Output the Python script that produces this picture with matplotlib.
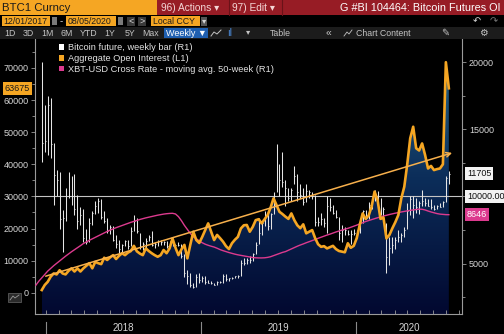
import matplotlib
matplotlib.use('Agg')
import matplotlib.pyplot as plt
import matplotlib.dates as mdates
import matplotlib.patches as mpatches
import matplotlib.transforms as mtransforms
from matplotlib.colors import LinearSegmentedColormap
import numpy as np
import pandas as pd

plt.rcParams['font.family'] = ['Liberation Sans', 'DejaVu Sans']

# ── Data ─────────────────────────────────────────────────────────────
bar_dates = pd.date_range('2017-12-22', periods=138, freq='7D')
ma_dates = pd.date_range('2017-12-08', periods=140, freq='7D')

price_high = [20000, 16800, 17500, 17300, 14000, 12000, 11800, 9000, 10600, 11800,
              11500, 11700, 10100, 9200, 9100, 7600, 8400, 8900, 9700, 9900,
              9800, 8900, 8400, 7900, 7800, 7100, 6800, 6500, 6800, 6800,
              7700, 8600, 8400, 7300, 6600, 6900, 7100, 7400, 6600, 6800,
              6800, 6700, 6700, 6700, 6600, 6500, 6600, 6500, 5700, 4500,
              4300, 3600, 4200, 4300, 4100, 4100, 3800, 3700, 3600, 3700,
              3700, 4200, 4200, 3950, 4000, 4100, 4150, 5300, 5450, 5400,
              5600, 5800, 6600, 8400, 8200, 8900, 8800, 8800, 10300, 13900,
              12400, 13300, 11200, 10600, 10600, 12300, 11700, 10900, 10600, 10900,
              10500, 10300, 10100, 8500, 8800, 8400, 10000, 9900, 9400, 9000,
              8500, 7900, 7700, 7500, 7500, 7600, 7500, 8300, 9000, 9000,
              9600, 9900, 10500, 10400, 9900, 9200, 8000, 7000, 7000, 7000,
              7500, 7300, 7700, 9500, 10000, 10000, 9900, 9700, 10500, 9900,
              9800, 9800, 9400, 9400, 9500, 9700, 11500, 11900]
price_low = [12600, 13300, 13100, 12900, 9400, 10000, 7600, 5900, 8200, 9900,
             9400, 8600, 7600, 7900, 6600, 6500, 6600, 7900, 8700, 8800,
             8300, 8000, 7300, 7200, 6700, 6200, 5800, 5800, 6300, 6100,
             6300, 7400, 7300, 6100, 6000, 6200, 6700, 6300, 6200, 6300,
             6400, 6400, 6200, 6300, 6300, 6300, 6300, 5400, 4000, 3500,
             3300, 3200, 3300, 3600, 3650, 3500, 3550, 3500, 3400, 3400,
             3580, 3600, 3700, 3750, 3850, 3900, 3950, 4100, 4900, 5000,
             5050, 5200, 5700, 6500, 7100, 7800, 7500, 7600, 8700, 10300,
             10000, 10700, 9300, 9700, 9700, 10900, 9700, 9900, 9400, 9600,
             9900, 9800, 7800, 7800, 7900, 7700, 7300, 8900, 8700, 8400,
             6800, 6600, 7100, 7100, 6500, 7100, 6900, 7300, 8000, 8300,
             8300, 9100, 9700, 9500, 8600, 8500, 4300, 4900, 5800, 6100,
             6600, 6600, 7000, 7600, 8600, 8400, 8800, 8700, 9300, 9300,
             9300, 9100, 9000, 9100, 9200, 9200, 9600, 10900]
price_close = [14000, 14100, 16800, 13900, 11600, 11200, 8300, 8400, 10300, 10000,
               11100, 9100, 8200, 8600, 6900, 6600, 8000, 8800, 9300, 9700,
               8500, 8200, 7400, 7700, 6800, 6500, 6100, 6400, 6700, 6300,
               7400, 8200, 7400, 6300, 6500, 6700, 7000, 6400, 6500, 6700,
               6600, 6600, 6300, 6400, 6400, 6400, 6400, 5600, 4300, 4100,
               3400, 3300, 4000, 3800, 3900, 3650, 3600, 3580, 3450, 3650,
               3640, 4100, 3850, 3900, 3950, 4050, 4100, 5050, 5050, 5300,
               5250, 5750, 6400, 7300, 8000, 8600, 7800, 8700, 10200, 11500,
               11200, 11100, 10600, 9900, 10500, 11500, 10300, 10100, 9600, 10400,
               10300, 10000, 8100, 8100, 8300, 8000, 9300, 9200, 8800, 8500,
               7300, 7500, 7500, 7200, 7200, 7300, 7400, 8100, 8900, 8400,
               9400, 9800, 10300, 9700, 8700, 9100, 5500, 6200, 6400, 6800,
               7000, 7100, 7500, 8900, 9800, 9400, 9200, 9500, 9700, 9500,
               9300, 9200, 9100, 9300, 9200, 9600, 11400, 11705]
open_interest = [840, 2400, 3400, 5000, 6000, 5700, 7000, 6000, 5700, 6800,
                 7600, 6600, 7600, 6600, 7600, 8400, 9200, 7600, 9600, 9200,
                 8900, 10900, 10200, 11000, 11700, 10500, 11500, 12300, 11700, 12500,
                 13000, 14600, 12900, 12200, 11700, 13800, 13000, 12300, 11700, 11200,
                 11700, 13300, 12300, 13800, 16900, 14000, 11700, 13500, 14900, 10700,
                 15000, 19000, 16400, 15500, 17400, 19500, 21600, 19000, 16400, 18000,
                 17000, 15900, 14500, 13600, 15400, 16500, 17400, 20000, 21000, 21100,
                 19000, 20500, 22600, 22900, 21600, 22900, 24200, 26500, 29400, 27300,
                 25200, 24500, 23700, 23000, 24700, 22600, 21000, 20100, 21300, 18500,
                 19000, 19500, 17000, 15100, 14300, 14500, 13800, 14200, 14600, 13600,
                 13000, 12800, 12600, 15400, 14000, 14600, 17000, 21100, 24700, 23000,
                 24000, 26800, 31500, 28900, 23000, 23400, 16900, 18000, 20100, 22000,
                 24200, 29400, 33000, 40000, 48100, 51700, 45000, 44300, 46500, 42900,
                 38700, 39500, 38200, 38500, 38700, 40000, 71800, 63675]
ma_50w = [3400, 3700, 3950, 4200, 4450, 4650, 4850, 5030, 5220, 5400,
          5560, 5730, 5890, 6040, 6190, 6340, 6500, 6620, 6740, 6850,
          6960, 7070, 7180, 7290, 7400, 7500, 7590, 7680, 7760, 7840,
          7920, 8000, 8080, 8150, 8220, 8290, 8350, 8410, 8460, 8510,
          8560, 8610, 8650, 8690, 8720, 8740, 8750, 8700, 8500, 8200,
          7850, 7550, 7250, 7000, 6850, 6700, 6560, 6450, 6370, 6300,
          6240, 6150, 6050, 5970, 5900, 5830, 5770, 5710, 5660, 5620,
          5580, 5540, 5500, 5460, 5440, 5430, 5430, 5440, 5470, 5520,
          5600, 5680, 5760, 5840, 5900, 6000, 6100, 6200, 6300, 6390,
          6470, 6560, 6640, 6720, 6800, 6890, 6970, 7050, 7130, 7200,
          7280, 7360, 7430, 7500, 7570, 7630, 7710, 7790, 7870, 7960,
          8050, 8140, 8210, 8280, 8350, 8420, 8480, 8550, 8600, 8660,
          8710, 8760, 8800, 8850, 8890, 8930, 8970, 9000, 9030, 9060,
          9050, 9000, 8920, 8850, 8790, 8730, 8690, 8670, 8650, 8646]
trend_dates = pd.to_datetime(['2017-12-25', '2020-08-21'])
trend_oi = [4900, 43800]
ref_level = 10000
years = [2018, 2019, 2020]
x_range = pd.to_datetime(['2017-12-06', '2020-09-07'])

ORANGE = '#f5a623'
PINK = '#dc3a8e'
GRID = '#9a9a9a'
TXT = '#d6d6d6'

W, H = 504, 334
fig = plt.figure(figsize=(W / 100, H / 100), dpi=100, facecolor='black')


def px(x0, y0, x1, y1):
    return [x0 / W, 1 - y1 / H, (x1 - x0) / W, (y1 - y0) / H]


ax = fig.add_axes(px(35, 39, 462, 314))
ax.set_facecolor('black')
ax2 = ax.twinx()
ax3 = ax.twinx()
ax.set_zorder(1)
ax2.set_zorder(2)
ax3.set_zorder(3)

oi_lim = (-6630, 79030)
px_lim = (1258, 21718)
xn = mdates.date2num(bar_dates)
xlim = mdates.date2num(x_range)

# gradient fill under open interest
poly = ax.fill_between(xn, open_interest, oi_lim[0], facecolor='none', edgecolor='none')
grad = np.linspace(0, 1, 256).reshape(-1, 1)
cmap = LinearSegmentedColormap.from_list('oi', ['#020830', '#0c2e5a', '#2b6e8e'])
im = ax.imshow(grad, aspect='auto', cmap=cmap, origin='lower',
               extent=[xn[0], xn[-1], oi_lim[0], oi_lim[1]], zorder=1)
im.set_clip_path(poly.get_paths()[0], transform=ax.transData)
ax.set_xlim(*xlim)
ax.set_ylim(*oi_lim)

# price bars, 10000 line and moving average on the right scale
ax2.axhline(ref_level, color='#c4c4c4', lw=0.8, zorder=1)
ax2.vlines(bar_dates, price_low, price_high, colors='#e4e4e4', lw=0.75, zorder=2)
ax2.hlines(price_close, xn, xn + 2.2, colors='#e4e4e4', lw=0.75, zorder=2)
ax2.plot(ma_dates, ma_50w, color=PINK, lw=1.0, zorder=3)
ax2.set_ylim(*px_lim)

# open interest line + trend arrow on top
ax3.plot(xn, open_interest, color=ORANGE, lw=1.9, solid_joinstyle='round', zorder=3)
ax3.annotate('', xy=(mdates.date2num(trend_dates[1]), trend_oi[1]),
             xytext=(mdates.date2num(trend_dates[0]), trend_oi[0]),
             arrowprops=dict(arrowstyle='->', color='#f7b04c', lw=1.1, mutation_scale=8))
ax3.set_ylim(*oi_lim)
ax3.set_xlim(*xlim)

# axes styling
for a in (ax, ax2, ax3):
    for s in a.spines.values():
        s.set_visible(False)
ax.spines['left'].set_visible(True)
ax.spines['bottom'].set_visible(True)
ax2.spines['right'].set_visible(True)
for s in (ax.spines['left'], ax.spines['bottom'], ax2.spines['right']):
    s.set_color(GRID)
    s.set_linewidth(0.8)

ax.set_yticks(range(0, 70001, 10000))
ax.set_yticks(range(0, 75001, 5000), minor=True)
ax.tick_params(axis='y', which='both', colors=GRID, labelcolor=TXT, labelsize=6.5,
               length=3, width=0.6, pad=1.5)
ax.tick_params(axis='y', which='minor', length=2)
ax.set_xticks([])
ax.xaxis.set_minor_locator(mdates.MonthLocator())
ax.tick_params(axis='x', which='minor', direction='in', length=3, width=0.6, colors=GRID)

ax2.set_yticks([5000, 10000, 15000, 20000])
ax2.set_yticklabels(['5000', '', '15000', '20000'])
ax2.set_yticks(np.arange(2500, 21000, 2500), minor=True)
ax2.tick_params(axis='y', which='both', colors=GRID, labelcolor=TXT, labelsize=6.5,
                length=3, width=0.6, pad=2)
ax2.tick_params(axis='y', which='minor', length=2)
ax3.set_yticks([])
ax3.set_xticks([])

# year separators and labels
bx = mtransforms.blended_transform_factory(ax.transData, ax.transAxes)
starts = [mdates.date2num(pd.Timestamp(f'{y}-01-01')) for y in years]
ends = starts[1:] + [xlim[1]]
for y, s, e in zip(years, starts, ends):
    ax.plot([s, s], [-0.03, -0.075], transform=bx, clip_on=False, color='#8a8a8a', lw=0.8)
    ax.text((s + e) / 2, -0.052, str(y), transform=bx, ha='center', va='center',
            color=TXT, fontsize=7)

# last value tags
lt = mtransforms.blended_transform_factory(ax.transAxes, ax.transData)
ax.text(-0.012, open_interest[-1], f'{open_interest[-1]}', transform=lt, ha='right',
        va='center', fontsize=6.5, color='#1a1a1a', zorder=5,
        bbox=dict(boxstyle='square,pad=0.2', fc=ORANGE, ec='none'))
rt = mtransforms.blended_transform_factory(ax2.transAxes, ax2.transData)
ax2.text(1.012, price_close[-1], f'{price_close[-1]}', transform=rt, ha='left', va='center',
         fontsize=6.5, color='#111111', clip_on=False,
         bbox=dict(boxstyle='square,pad=0.2', fc='#f2f2f2', ec='none'))
ax2.text(1.012, ref_level, f'{ref_level:.2f}', transform=rt, ha='left', va='center',
         fontsize=6.5, color='#111111', clip_on=False,
         bbox=dict(boxstyle='square,pad=0.2', fc='#f2f2f2', ec='none'))
ax2.text(1.012, ma_50w[-1], f'{ma_50w[-1]}', transform=rt, ha='left', va='center',
         fontsize=6.5, color='white', clip_on=False,
         bbox=dict(boxstyle='square,pad=0.2', fc=PINK, ec='none'))

# legend
handles = [mpatches.Patch(fc='white'), mpatches.Patch(fc=ORANGE), mpatches.Patch(fc=PINK)]
labels = ['Bitcoin future, weekly bar (R1)', 'Aggregate Open Interest (L1)',
          'XBT-USD Cross Rate - moving avg. 50-week (R1)']
leg = ax3.legend(handles, labels, loc='upper left', bbox_to_anchor=(0.05, 0.995),
                 frameon=True, facecolor='black', edgecolor='none', framealpha=1,
                 fontsize=6.7, labelcolor='#e2e2e2', handlelength=0.55, handleheight=0.55,
                 handletextpad=0.35, borderpad=0.3, labelspacing=0.2, borderaxespad=0)

# ── Bloomberg header bars ────────────────────────────────────────────
hdr = fig.add_axes([0, 0, 1, 1], zorder=10)
hdr.set_xlim(0, W)
hdr.set_ylim(H, 0)
hdr.axis('off')
hdr.patch.set_visible(False)


def box(x, y, w, h, fc, ec='none'):
    hdr.add_patch(mpatches.Rectangle((x, y), w, h, fc=fc, ec=ec, lw=0.6))


# row 1
box(0, 0, W, 15, '#971c25')
box(0, 0, 157, 15, ORANGE)
hdr.text(2, 8, 'BTC1 Curncy', fontsize=8.2, color='#1a1a1a', va='center')
hdr.text(161, 8, '96) Actions ▾', fontsize=7.3, color='#f4d6d6', va='center')
hdr.plot([229, 229], [0, 15], color='#6a1218', lw=0.8)
hdr.text(232, 8, '97) Edit ▾', fontsize=7.3, color='#f4d6d6', va='center')
hdr.plot([282, 282], [0, 15], color='#6a1218', lw=0.8)
hdr.text(500, 8, 'G #BI 104464: Bitcoin Futures OI', fontsize=7.8, color='white',
         va='center', ha='right')

# row 2
box(2, 16, 48, 10, ORANGE)
hdr.text(3.5, 21.5, '12/01/2017', fontsize=6.3, color='#1a1a1a', va='center')
box(52, 17, 5, 8, '#7a7a7a')
hdr.text(61, 21, '-', fontsize=7, color=TXT, va='center', ha='center')
box(66, 16, 50, 10, ORANGE)
hdr.text(67.5, 21.5, '08/05/2020', fontsize=6.3, color='#1a1a1a', va='center')
box(118, 17, 5, 8, '#7a7a7a')
box(127, 17, 8, 9, '#3a3a3a')
hdr.text(131, 21.5, '<', fontsize=6.5, color=TXT, va='center', ha='center')
box(138, 17, 8, 9, '#3a3a3a')
hdr.text(142, 21.5, '>', fontsize=6.5, color=TXT, va='center', ha='center')
box(151, 16, 49, 10, ORANGE)
hdr.text(153, 21.5, 'Local CCY', fontsize=6.3, color='#1a1a1a', va='center')
box(201, 17, 6, 9, '#555555')
hdr.text(204, 21.5, '▾', fontsize=6, color=TXT, va='center', ha='center')
hdr.text(477, 21, '↶', fontsize=7, color=TXT, va='center', ha='center', family='DejaVu Sans')
hdr.text(494, 21, '↷', fontsize=7, color='#777777', va='center', ha='center',
         family='DejaVu Sans')

# row 3
box(0, 27, W, 12, '#1c1c1c')
for lab, xc in zip(['1D', '3D', '1M', '6M', 'YTD', '1Y', '5Y', 'Max'],
                   [10, 28, 47, 67, 89, 110, 130, 151]):
    hdr.text(xc, 33, lab, fontsize=6.3, color='#c4c4c4', va='center', ha='center')
box(164, 28, 44, 10, '#1f5fb0')
hdr.text(186, 33, 'Weekly ▼', fontsize=6.5, color='white', va='center', ha='center')
hdr.plot([211, 214, 217, 221], [36, 32, 34, 30], color='#c4c4c4', lw=0.7)
hdr.text(230, 33, 'ıl', fontsize=7, color='#4d8fe0', va='center', ha='center')
hdr.text(248, 33, '▾', fontsize=6, color='#c4c4c4', va='center', ha='center')
hdr.text(280, 33, 'Table', fontsize=6.3, color='#c4c4c4', va='center', ha='center')
hdr.text(329, 33, '«', fontsize=7.5, color='#c4c4c4', va='center', ha='center')
hdr.plot([344, 347, 349, 352], [36, 32, 34, 30], color='#c4c4c4', lw=0.6)
hdr.text(356, 33, 'Chart Content', fontsize=6.3, color='#c4c4c4', va='center', ha='left')
hdr.text(445, 33, '✎', fontsize=7, color='#c4c4c4', va='center', ha='center',
         family='DejaVu Sans')
hdr.text(483, 33, '⚙', fontsize=7, color='#c4c4c4', va='center', ha='center',
         family='DejaVu Sans')

# chart icon bottom-left
box(8, 293, 13, 9, '#2a2a2a', ec='#5a5a5a')
hdr.plot([10, 13, 15, 19], [300, 296, 298, 295], color='#9a9a9a', lw=0.6)

fig.savefig('out.png', dpi=100, facecolor='black')
